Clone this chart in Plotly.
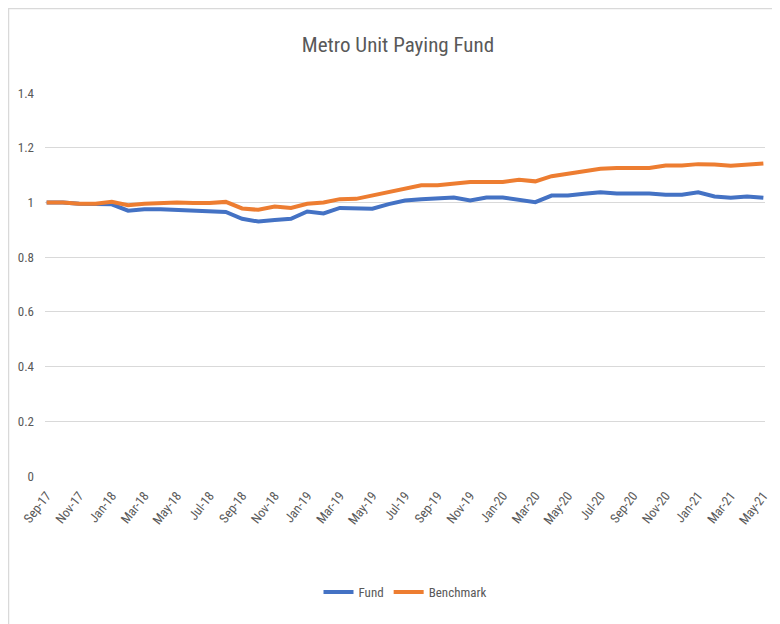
import plotly.graph_objects as go

months = ["Sep-17","Oct-17","Nov-17","Dec-17","Jan-18","Feb-18","Mar-18","Apr-18","May-18","Jun-18",
          "Jul-18","Aug-18","Sep-18","Oct-18","Nov-18","Dec-18","Jan-19","Feb-19","Mar-19","Apr-19",
          "May-19","Jun-19","Jul-19","Aug-19","Sep-19","Oct-19","Nov-19","Dec-19","Jan-20","Feb-20",
          "Mar-20","Apr-20","May-20","Jun-20","Jul-20","Aug-20","Sep-20","Oct-20","Nov-20","Dec-20",
          "Jan-21","Feb-21","Mar-21","Apr-21","May-21"]

fund = [1.0, 1.0, 0.995, 0.995, 0.993, 0.97, 0.975, 0.975, 0.972, 0.968,
        0.968, 0.965, 0.94, 0.93, 0.936, 0.94, 0.967, 0.96, 0.98, 0.977,
        0.977, 0.994, 1.007, 1.012, 1.015, 1.018, 1.007, 1.018, 1.018, 1.01,
        1.001, 1.025, 1.025, 1.032, 1.037, 1.033, 1.033, 1.033, 1.028, 1.028,
        1.037, 1.022, 1.017, 1.022, 1.017]

benchmark = [1.0, 1.0, 0.995, 0.995, 1.002, 0.99, 0.995, 0.998, 1.0, 0.998,
             0.998, 1.002, 0.978, 0.973, 0.985, 0.98, 0.995, 1.0, 1.012, 1.013,
             1.025, 1.037, 1.048, 1.063, 1.063, 1.07, 1.075, 1.075, 1.075, 1.083,
             1.077, 1.096, 1.105, 1.117, 1.123, 1.126, 1.126, 1.126, 1.135, 1.135,
             1.14, 1.139, 1.134, 1.139, 1.142]

y_ticks = [0, 0.2, 0.4, 0.6, 0.8, 1, 1.2, 1.4]
y_ticktext = ["0", "0.2", "0.4", "0.6", "0.8", "1", "1.2", "1.4"]

font_family = "Liberation Sans Narrow, Roboto Condensed, Roboto, sans-serif"
x_idx = list(range(len(months)))

fig = go.Figure()
fig.add_trace(go.Scatter(x=x_idx, y=fund, mode="lines", name="Fund",
                         line=dict(color="#4472C4", width=4)))
fig.add_trace(go.Scatter(x=x_idx, y=benchmark, mode="lines", name="Benchmark",
                         line=dict(color="#ED7D31", width=4)))

fig.update_layout(
    width=780, height=624,
    paper_bgcolor="white", plot_bgcolor="white",
    margin=dict(l=37, r=23, t=85, b=156, autoexpand=False),
    title=dict(text="Metro Unit Paying Fund", x=0.5, xanchor="center", y=0.941, yanchor="middle",
               font=dict(family=font_family, size=21, color="#595959")),
    font=dict(family=font_family, color="#595959"),
    showlegend=True,
    legend=dict(orientation="h", x=0.5, xanchor="center", y=-0.303, yanchor="middle",
                font=dict(size=13, color="#595959"), itemwidth=30),
    xaxis=dict(range=[-0.1, 44.1], tickmode="array", tickvals=x_idx[::2], ticktext=months[::2],
               tickangle=-52, showgrid=False, zeroline=False, showline=False, automargin=False,
               tickfont=dict(size=13, color="#595959"), ticks="outside", ticklen=6,
               tickcolor="rgba(0,0,0,0)"),
    yaxis=dict(range=[0, 1.4], tickmode="array", tickvals=y_ticks, ticktext=y_ticktext,
               showgrid=True, gridcolor="#D9D9D9", gridwidth=1, zeroline=False, showline=False,
               automargin=False, tickfont=dict(size=13, color="#595959"), ticks="",
               ticklabelstandoff=10),
)

fig.add_shape(type="rect", xref="paper", yref="paper", x0=-0.0507, x1=1.2, y0=-0.5, y1=1.2206,
              line=dict(color="#D9D9D9", width=1.5), fillcolor="rgba(0,0,0,0)", layer="below")

fig.write_html("out.html")
